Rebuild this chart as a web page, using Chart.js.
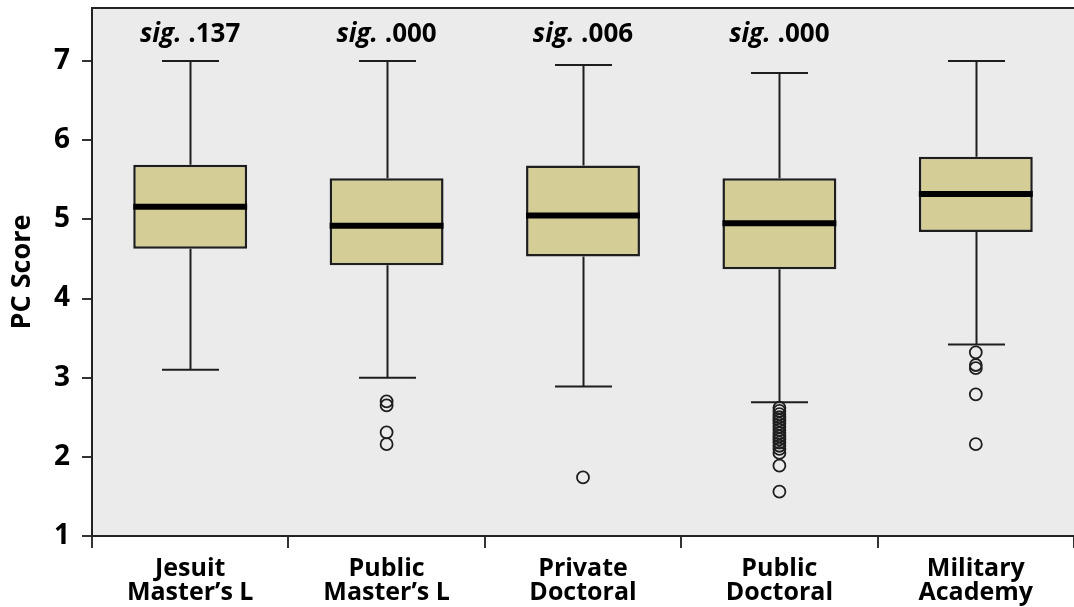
<!DOCTYPE html>
<html>
<head>
<meta charset="utf-8">
<script src="https://cdn.jsdelivr.net/npm/chart.js@4/dist/chart.umd.min.js"></script>
<style>
  html, body { margin: 0; padding: 0; background: #ffffff; }
  #wrap { width: 1074px; height: 607px; }
</style>
</head>
<body>
<div id="wrap"><canvas id="c" width="1074" height="607"></canvas></div>
<script>
// Institution groups (x axis); "\n" splits each label into two lines
const categories = [
  'Jesuit\nMaster\u2019s L',
  'Public\nMaster\u2019s L',
  'Private\nDoctoral',
  'Public\nDoctoral',
  'Military\nAcademy'
];

// Box plot summary of PC Score per group
const whiskerLow  = [3.10, 3.00, 2.89, 2.69, 3.42];
const q1          = [4.63, 4.42, 4.53, 4.37, 4.84];
const median      = [5.16, 4.92, 5.05, 4.95, 5.32];
const q3          = [5.69, 5.52, 5.68, 5.52, 5.79];
const whiskerHigh = [7.00, 7.00, 6.95, 6.85, 7.00];

// Outlying scores per group
const outliersJesuit   = [];
const outliersPubMast  = [2.70, 2.65, 2.31, 2.16];
const outliersPrivDoc  = [1.74];
const outliersPubDoc   = [2.62, 2.58, 2.54, 2.50, 2.46, 2.42, 2.38, 2.34, 2.30, 2.26, 2.22, 2.18, 2.14, 2.10, 2.05, 1.89, 1.56];
const outliersMilitary = [3.32, 3.16, 3.12, 2.79, 2.16];

// Significance annotations above each box
const sigValues = ['.137', '.000', '.006', '.000', ''];

// Y axis ticks
const yTicks = [1, 2, 3, 4, 5, 6, 7];

const outlierGroups = [outliersJesuit, outliersPubMast, outliersPrivDoc, outliersPubDoc, outliersMilitary];
const outlierPoints = [];
outlierGroups.forEach((vals, i) => vals.forEach(v => outlierPoints.push({ x: categories[i], y: v })));

const FONT = "'Open Sans', 'DejaVu Sans', sans-serif";
const INK = '#1e1e1e';

const boxPlotPlugin = {
  id: 'boxPlot',
  beforeDraw(chart) {
    const { ctx, chartArea: a } = chart;
    ctx.save();
    ctx.fillStyle = '#ebebeb';
    ctx.fillRect(a.left, a.top, a.right - a.left, a.bottom - a.top);
    ctx.restore();
  },
  beforeDatasetsDraw(chart) {
    const { ctx } = chart;
    const xs = chart.scales.x, ys = chart.scales.y;
    const bars = chart.getDatasetMeta(0).data;
    ctx.save();
    ctx.strokeStyle = INK;
    ctx.lineWidth = 2;
    categories.forEach((_, i) => {
      const cx = Math.round(xs.getPixelForValue(i)) + 0.5;
      const half = bars[i].width / 4;
      const yHi = ys.getPixelForValue(whiskerHigh[i]);
      const yQ3 = ys.getPixelForValue(q3[i]);
      const yQ1 = ys.getPixelForValue(q1[i]);
      const yLo = ys.getPixelForValue(whiskerLow[i]);
      ctx.beginPath();
      ctx.moveTo(cx, yHi); ctx.lineTo(cx, yQ3);
      ctx.moveTo(cx, yQ1); ctx.lineTo(cx, yLo);
      ctx.moveTo(cx - half, yHi); ctx.lineTo(cx + half, yHi);
      ctx.moveTo(cx - half, yLo); ctx.lineTo(cx + half, yLo);
      ctx.stroke();
    });
    ctx.restore();
  },
  afterDatasetsDraw(chart) {
    const { ctx, chartArea: a } = chart;
    const xs = chart.scales.x, ys = chart.scales.y;
    const bars = chart.getDatasetMeta(0).data;
    ctx.save();
    // median bars
    ctx.strokeStyle = '#000';
    ctx.lineWidth = 6;
    categories.forEach((_, i) => {
      const b = bars[i];
      const y = ys.getPixelForValue(median[i]);
      ctx.beginPath();
      ctx.moveTo(b.x - b.width / 2, y);
      ctx.lineTo(b.x + b.width / 2, y);
      ctx.stroke();
    });
    // significance labels
    ctx.fillStyle = '#000';
    ctx.textBaseline = 'middle';
    const ySig = ys.getPixelForValue(7.34);
    sigValues.forEach((s, i) => {
      if (!s) return;
      const cx = xs.getPixelForValue(i);
      const fItalic = "italic bold 26px " + FONT;
      const fBold = "bold 26px " + FONT;
      ctx.font = fItalic;
      const w1 = ctx.measureText('sig.').width;
      ctx.font = fBold;
      const w2 = ctx.measureText(' ' + s).width;
      const x0 = cx - (w1 + w2) / 2;
      ctx.textAlign = 'left';
      ctx.font = fItalic;
      ctx.fillText('sig.', x0, ySig);
      ctx.font = fBold;
      ctx.fillText(' ' + s, x0 + w1, ySig);
    });
    // top frame line
    ctx.strokeStyle = '#222';
    ctx.lineWidth = 2;
    ctx.beginPath();
    ctx.moveTo(a.left, a.top);
    ctx.lineTo(a.right, a.top);
    ctx.stroke();
    ctx.restore();
  }
};

new Chart(document.getElementById('c'), {
  data: {
    labels: categories,
    datasets: [
      {
        type: 'bar',
        data: q1.map((v, i) => [v, q3[i]]),
        backgroundColor: '#d4cd95',
        borderColor: INK,
        borderWidth: 2.5,
        borderSkipped: false,
        barPercentage: 0.58,
        categoryPercentage: 1.0,
        order: 2
      },
      {
        type: 'line',
        data: outlierPoints,
        showLine: false,
        pointStyle: 'circle',
        pointRadius: 6,
        pointBorderWidth: 1.8,
        pointBorderColor: INK,
        pointBackgroundColor: 'rgba(0,0,0,0)',
        order: 1
      }
    ]
  },
  options: {
    responsive: false,
    animation: false,
    events: [],
    layout: { autoPadding: false, padding: { top: 8, right: 0, bottom: 0, left: 0 } },
    plugins: { legend: { display: false }, tooltip: { enabled: false } },
    scales: {
      x: {
        type: 'category',
        offset: true,
        grid: { drawOnChartArea: false, drawTicks: true, tickLength: 12, color: '#333', lineWidth: 2 },
        border: { display: true, color: '#222', width: 2 },
        ticks: {
          color: '#000',
          padding: 9,
          maxRotation: 0,
          autoSkip: false,
          font: { family: FONT, size: 25, weight: 'bold', lineHeight: 0.95 },
          callback(value) { return this.getLabelForValue(value).split('\n'); }
        },
        afterFit(scale) {
          scale.height = 71;
          scale.paddingLeft = 0;
          scale.paddingRight = 0;
        }
      },
      y: {
        type: 'linear',
        min: 1,
        max: 7.67,
        grid: { drawOnChartArea: false, drawTicks: true, tickLength: 10, color: '#333', lineWidth: 2 },
        border: { display: true, color: '#222', width: 2 },
        afterBuildTicks(scale) { scale.ticks = yTicks.map(v => ({ value: v })); },
        ticks: {
          color: '#000',
          padding: 12,
          font: { family: FONT, size: 28, weight: 'bold' }
        },
        title: {
          display: true,
          text: 'PC Score',
          color: '#000',
          padding: { top: 6, bottom: 0 },
          font: { family: FONT, size: 27, weight: 'bold' }
        },
        afterFit(scale) {
          scale.width = 92;
          scale.paddingTop = 0;
          scale.paddingBottom = 0;
        }
      }
    }
  },
  plugins: [boxPlotPlugin]
});
</script>
</body>
</html>
